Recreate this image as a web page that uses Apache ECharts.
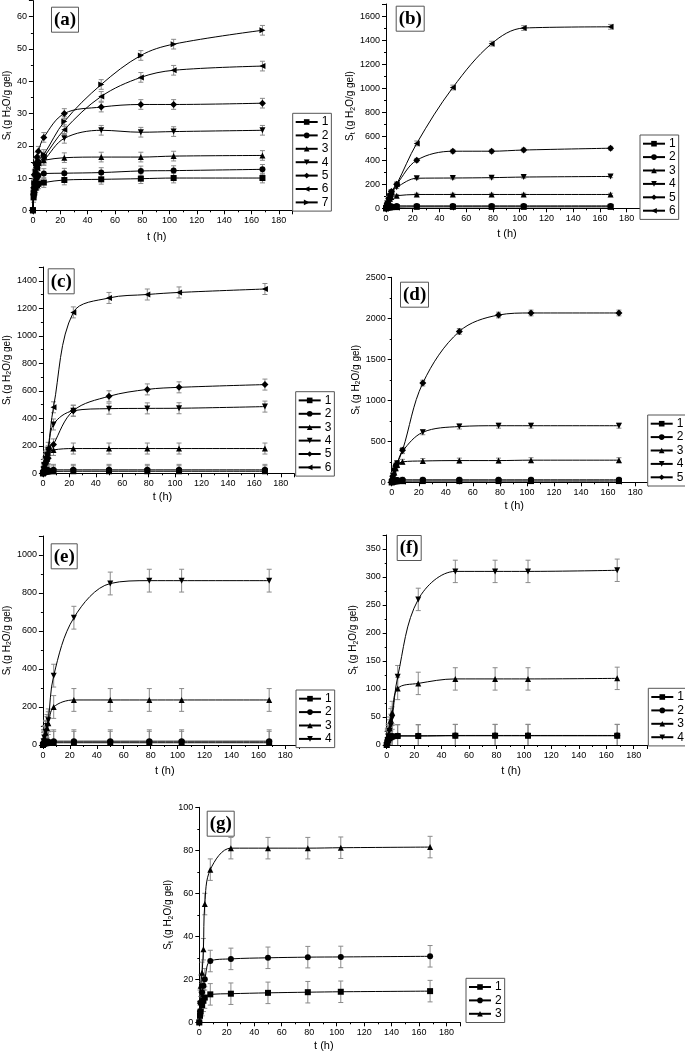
<!DOCTYPE html>
<html><head><meta charset="utf-8">
<script src="https://cdn.jsdelivr.net/npm/echarts@6/dist/echarts.min.js"></script>
<style>html,body{margin:0;padding:0;background:#fff}#c{width:685px;height:1056px}</style>
</head><body><div id="c"></div>
<script>
// time points (h)
const T = [0, 0.5, 1, 2, 3, 4, 8, 23, 50, 79, 103, 168];

// panel (a)
const dataA = [
  [0, 4, 5.5, 7, 7.8, 8.2, 8.6, 9.4, 9.6, 9.8, 10.0, 10.0],
  [0, 5, 7, 9, 10.2, 10.8, 11.4, 11.5, 11.7, 12.2, 12.3, 12.7],
  [0, 6, 9, 12, 13.8, 14.8, 15.5, 16.3, 16.5, 16.5, 16.8, 17.0],
  [0, 5, 8, 11, 12.8, 14, 15.5, 22.3, 24.8, 24.2, 24.4, 24.8],
  [0, 7, 11, 14.5, 16.5, 18.3, 22.6, 30.0, 32.0, 32.8, 32.8, 33.2],
  [0, 5, 8, 11, 13, 14.5, 16.5, 25.0, 35.3, 41.2, 43.4, 44.7],
  [0, 5.5, 8.5, 12, 14, 15.5, 17.3, 27.5, 39.0, 48.0, 51.5, 55.8]
];
const errA = [1.5, 1.5, 1.5, 1.5, 1.5, 1.5, 1.5];

// panel (b)
const dataB = [
  [0, 3, 5, 7, 8, 9, 10, 12, 12, 12, 12, 12],
  [0, 5, 8, 12, 15, 17, 20, 20, 20, 20, 20, 20],
  [0, 20, 35, 60, 80, 95, 105, 115, 115, 115, 115, 115],
  [0, 20, 40, 70, 100, 130, 175, 250, 252, 255, 260, 265],
  [0, 25, 45, 80, 110, 140, 200, 400, 475, 475, 485, 500],
  [0, 20, 40, 80, 100, 130, 200, 540, 1005, 1370, 1500, 1510]
];
const errB = [10, 10, 10, 10, 15, 20];

// panel (c)
const dataC = [
  [0, 5, 8, 10, 12, 13, 14, 15, 15, 15, 15, 15],
  [0, 10, 15, 20, 22, 24, 25, 25, 25, 25, 25, 25],
  [0, 30, 60, 100, 130, 150, 170, 180, 180, 180, 180, 180],
  [0, 30, 60, 100, 130, 160, 355, 455, 470, 472, 473, 485],
  [0, 20, 40, 70, 90, 110, 210, 455, 560, 610, 625, 645],
  [0, 40, 70, 120, 150, 185, 480, 1170, 1275, 1300, 1315, 1340]
];
const errC = [40, 40, 40, 40, 40, 40];

// panel (d)
const dataD = [
  [0, 5, 8, 10, 12, 13, 14, 15, 15, 15, 15, 15],
  [0, 10, 15, 20, 25, 28, 30, 30, 30, 30, 30, 30],
  [0, 30, 60, 120, 170, 210, 250, 260, 265, 265, 270, 270],
  [0, 40, 80, 140, 190, 230, 380, 610, 680, 690, 690, 690],
  [0, 40, 80, 150, 200, 230, 390, 1210, 1840, 2040, 2065, 2065]
];
const errD = [30, 30, 30, 30, 35];

// panel (e)
const dataE = [
  [0, 5, 7, 9, 10, 11, 12, 12, 12, 12, 12, 12],
  [0, 8, 12, 16, 18, 19, 20, 20, 20, 20, 20, 20],
  [0, 20, 40, 65, 90, 115, 200, 237, 237, 237, 237, 237],
  [0, 20, 40, 70, 100, 130, 365, 670, 850, 865, 865, 865]
];
const errE = [60, 60, 60, 60];

// panel (f)
const dataF = [
  [0, 5, 9, 12, 14, 15, 16, 16, 16.5, 16.5, 16.5, 16.5],
  [0, 6, 10, 13, 15, 16, 16.5, 16.5, 17, 17, 17, 17],
  [0, 10, 18, 30, 45, 58, 101, 110, 118, 118, 118, 119],
  [0, 8, 15, 25, 35, 48, 122, 260, 310, 310, 310, 312]
];
const errF = [20, 20, 20, 20];

// panel (g)
const dataG = [
  [0, 3, 5, 8, 10, 11.5, 13, 13.3, 13.7, 14, 14.2, 14.5],
  [0, 5, 9, 14, 17, 20, 28.5, 29.5, 30, 30.3, 30.4, 30.7],
  [0, 10, 17, 23, 34, 55, 71, 81, 81, 81, 81.2, 81.5]
];
const errG = [5, 5, 5];

const seriesNames = ['1', '2', '3', '4', '5', '6', '7'];
const symbols = ['rect', 'circle', 'triangle', 'path://M0,0L10,0L5,9Z', 'diamond',
  'path://M9,0L9,10L0,5Z', 'path://M0,0L0,10L9,5Z'];

const panels = [
  {id: 'a', data: dataA, err: errA, ymax: 65, yint: 10, g: [31, 0.6, 261.5, 209.7], lg: [292.7, 113.3], tg: [51, 6.7], yGap: 19, xGap: 21},
  {id: 'b', data: dataB, err: errB, ymax: 1700, yint: 200, g: [386, 4, 254, 204.3], lg: [640, 135], tg: [395.7, 5.7], yGap: 27, xGap: 20},
  {id: 'c', data: dataC, err: errC, ymax: 1500, yint: 200, g: [40, 267, 254, 206.3], lg: [295.7, 391.7], tg: [47.7, 268.3], yGap: 27, xGap: 18},
  {id: 'd', data: dataD, err: errD, ymax: 2500, yint: 500, g: [391.7, 277.3, 257, 205], lg: [647.7, 415], tg: [400, 281.7], yGap: 29, xGap: 18},
  {id: 'e', data: dataE, err: errE, ymax: 1100, yint: 200, g: [37.3, 536, 261.5, 209], lg: [296, 690], tg: [50.7, 543.3], yGap: 25, xGap: 20},
  {id: 'f', data: dataF, err: errF, ymax: 375, yint: 50, g: [386.7, 535, 260.7, 210], lg: [648.3, 688.3], tg: [396.7, 535], yGap: 27, xGap: 20},
  {id: 'g', data: dataG, err: errG, ymax: 100, yint: 20, g: [199.3, 807.3, 261, 215], lg: [466, 978.3], tg: [206.7, 810.7], yGap: 20, xGap: 18}
];

const font = 'Liberation Sans, Arial, sans-serif';
const plain = v => String(v);
const grid = [], xAxis = [], yAxis = [], series = [], legend = [], title = [];

panels.forEach((p, i) => {
  grid.push({left: p.g[0], top: p.g[1], width: p.g[2], height: p.g[3], containLabel: false});
  xAxis.push({
    type: 'value', gridIndex: i, min: 0, max: 190, interval: 20,
    name: 't (h)', nameLocation: 'middle', nameGap: p.xGap,
    nameTextStyle: {fontFamily: font, fontSize: 11, color: '#000', padding: [0, 12, 0, 0]},
    axisLine: {show: true, lineStyle: {color: '#000', width: 1}},
    axisTick: {show: true, length: 4, lineStyle: {color: '#000'}},
    minorTick: {show: true, splitNumber: 2, length: 2, lineStyle: {color: '#000'}},
    axisLabel: {fontFamily: font, fontSize: 9, color: '#000', margin: 6, showMaxLabel: false, formatter: plain},
    splitLine: {show: false}
  });
  yAxis.push({
    type: 'value', gridIndex: i, min: 0, max: p.ymax, interval: p.yint,
    name: 'S{s|t} (g H{s|2}O/g gel)', nameLocation: 'middle', nameGap: p.yGap,
    nameTextStyle: {fontFamily: font, fontSize: 10, color: '#000', lineHeight: 12,
      rich: {s: {fontFamily: font, fontSize: 7, color: '#000', verticalAlign: 'bottom', lineHeight: 9}}},
    axisLine: {show: true, lineStyle: {color: '#000', width: 1}},
    axisTick: {show: true, length: 4, lineStyle: {color: '#000'}},
    minorTick: {show: true, splitNumber: 2, length: 2, lineStyle: {color: '#000'}},
    axisLabel: {fontFamily: font, fontSize: 9, color: '#000', margin: 6,
      showMaxLabel: p.ymax % p.yint === 0, formatter: plain},
    splitLine: {show: false}
  });
  const names = [];
  p.data.forEach((arr, k) => {
    const nm = p.id + seriesNames[k];
    names.push(nm);
    series.push({
      type: 'custom', name: p.id + 'err' + k, xAxisIndex: i, yAxisIndex: i, z: 1, silent: true,
      data: T.map((t, j) => [t, arr[j], p.err[k]]).filter(d => d[0] > 0),
      encode: {x: 0, y: 1},
      renderItem: (params, api) => {
        const x = api.value(0), y = api.value(1), e = api.value(2);
        const top = api.coord([x, y + e]);
        const bot = api.coord([x, Math.max(y - e, 0)]);
        const cs = params.coordSys;
        const y1 = Math.max(top[1], cs.y), y2 = Math.min(bot[1], cs.y + cs.height);
        const st = {stroke: '#8a8a8a', lineWidth: 1};
        const ch = [{type: 'line', shape: {x1: top[0], y1: y1, x2: top[0], y2: y2}, style: st}];
        if (top[1] >= cs.y) ch.push({type: 'line', shape: {x1: top[0] - 2.5, y1: top[1], x2: top[0] + 2.5, y2: top[1]}, style: st});
        if (y - e > 0) ch.push({type: 'line', shape: {x1: bot[0] - 2.5, y1: bot[1], x2: bot[0] + 2.5, y2: bot[1]}, style: st});
        return {type: 'group', children: ch};
      }
    });
    series.push({
      type: 'line', name: nm, xAxisIndex: i, yAxisIndex: i, z: 3,
      data: T.map((t, j) => [t, arr[j]]),
      smooth: 0.35,
      symbol: symbols[k], symbolSize: k === 4 ? 7 : 6, showAllSymbol: true,
      lineStyle: {color: '#000', width: 1},
      itemStyle: {color: '#000'},
      emphasis: {disabled: true},
      animation: false
    });
  });
  legend.push({
    data: names, left: p.lg[0], top: p.lg[1], orient: 'vertical',
    itemWidth: 22, itemHeight: 7, itemGap: 0, padding: [2, 3, 2, 2],
    borderColor: '#555', borderWidth: 1, backgroundColor: '#fff',
    selectedMode: false,
    formatter: n => n.slice(1),
    textStyle: {fontFamily: font, fontSize: 12, color: '#000', lineHeight: 13.4, padding: [0, 0, 0, -1]}
  });
  title.push({
    text: '(' + p.id + ')', left: p.tg[0], top: p.tg[1],
    borderColor: '#555', borderWidth: 1, padding: [4, 3, 3, 3],
    textStyle: {fontFamily: 'Liberation Serif, Times New Roman, serif', fontWeight: 'bold', fontSize: 19, color: '#000'}
  });
});

const chart = echarts.init(document.getElementById('c'), null, {renderer: 'canvas'});
chart.setOption({animation: false, backgroundColor: '#fff', grid, xAxis, yAxis, series, legend, title});
</script>
</body></html>
